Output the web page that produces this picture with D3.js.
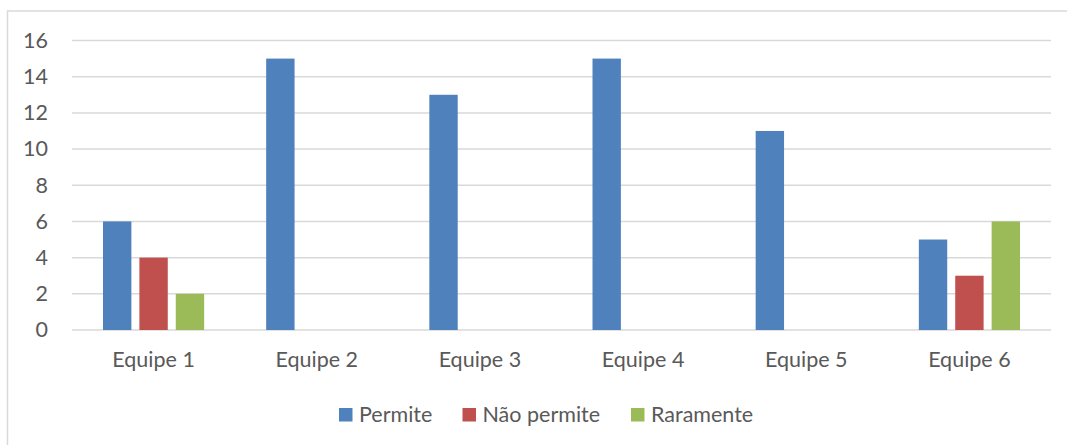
<!DOCTYPE html>
<html>
<head>
<meta charset="utf-8">
<script src="https://cdn.jsdelivr.net/npm/d3@7"></script>
<style>
  body { margin: 0; background: #fff; }
  text { font-family: Lato, "Open Sans", sans-serif; fill: #595959; }
</style>
</head>
<body>
<div id="chart"></div>
<script>
// data
const categories = ["Equipe 1", "Equipe 2", "Equipe 3", "Equipe 4", "Equipe 5", "Equipe 6"];
const seriesNames = ["Permite", "Não permite", "Raramente"];
const permite = [6, 15, 13, 15, 11, 5];
const naoPermite = [4, 0, 0, 0, 0, 3];
const raramente = [2, 0, 0, 0, 0, 6];
const yTicks = [0, 2, 4, 6, 8, 10, 12, 14, 16];
const colors = ["#4f81bd", "#c0504d", "#9bbb59"];

const seriesValues = [permite, naoPermite, raramente];

const width = 1067, height = 445;
const margin = { top: 40.5, right: 16, bottom: 115, left: 72 };
const fontSize = 21.5;

const svg = d3.select("#chart").append("svg")
    .attr("width", width)
    .attr("height", height);

// chart frame
svg.append("rect")
    .attr("x", 7.5).attr("y", 11)
    .attr("width", width).attr("height", height)
    .attr("fill", "none")
    .attr("stroke", "#d9d9d9")
    .attr("stroke-width", 1.5);

const x = d3.scaleBand()
    .domain(categories)
    .range([margin.left, width - margin.right])
    .paddingInner(0.38)
    .paddingOuter(0.19);

const xs = d3.scaleBand()
    .domain(seriesNames)
    .range([0, x.bandwidth()])
    .paddingInner(0.22);

const y = d3.scaleLinear()
    .domain([0, 16])
    .range([height - margin.bottom, margin.top]);

// gridlines
svg.append("g")
    .selectAll("line")
    .data(yTicks)
    .join("line")
    .attr("x1", margin.left)
    .attr("x2", width - margin.right)
    .attr("y1", d => y(d))
    .attr("y2", d => y(d))
    .attr("stroke", "#d9d9d9")
    .attr("stroke-width", 1.5);

// y axis labels
const yAxis = svg.append("g")
    .attr("transform", `translate(${margin.left - 24},0)`)
    .call(d3.axisLeft(y).tickValues(yTicks).tickSize(0).tickPadding(0));
yAxis.select(".domain").remove();
yAxis.attr("font-family", null);
yAxis.selectAll("text")
    .attr("font-size", fontSize)
    .attr("fill", "#595959");

// bars
const groups = svg.append("g")
    .selectAll("g")
    .data(categories)
    .join("g")
    .attr("transform", d => `translate(${x(d)},0)`);

groups.selectAll("rect")
    .data((d, i) => seriesNames.map((s, j) => ({ s, v: seriesValues[j][i], c: colors[j] })))
    .join("rect")
    .attr("x", d => xs(d.s))
    .attr("width", xs.bandwidth())
    .attr("y", d => y(d.v))
    .attr("height", d => y(0) - y(d.v))
    .attr("fill", d => d.c);

// x axis labels
const xAxis = svg.append("g")
    .attr("transform", `translate(0,${y(0) + 27})`)
    .call(d3.axisBottom(x).tickSize(0).tickPadding(0));
xAxis.select(".domain").remove();
xAxis.attr("font-family", null);
xAxis.selectAll("text")
    .attr("font-size", fontSize)
    .attr("fill", "#595959")
    .attr("dy", "0.45em");

// legend
const legendX = [339, 462.5, 631];
const legend = svg.append("g")
    .selectAll("g")
    .data(seriesNames)
    .join("g")
    .attr("transform", (d, i) => `translate(${legendX[i]},408)`);
legend.append("rect")
    .attr("width", 13.5).attr("height", 13.5)
    .attr("fill", (d, i) => colors[i]);
legend.append("text")
    .attr("x", 20)
    .attr("y", 6)
    .attr("dy", "0.36em")
    .attr("font-size", fontSize)
    .text(d => d);
</script>
</body>
</html>
